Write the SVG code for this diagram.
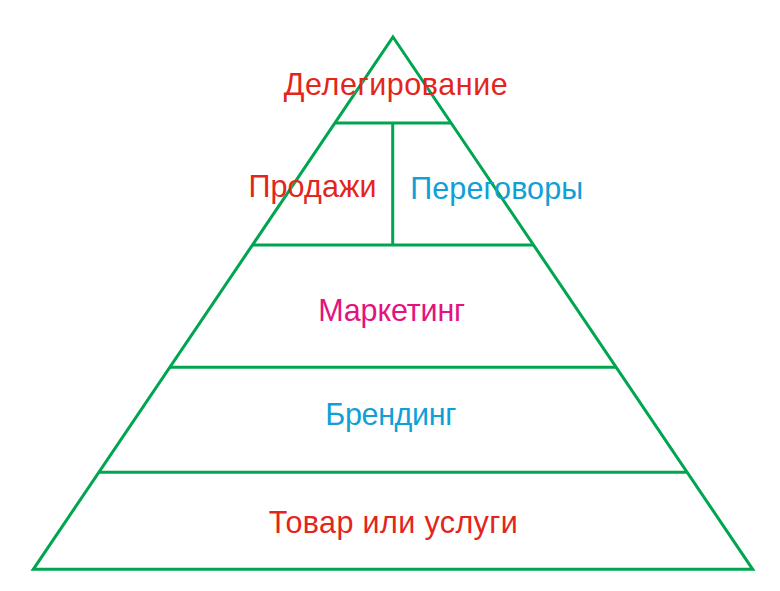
<svg xmlns="http://www.w3.org/2000/svg" width="780" height="591" viewBox="0 0 780 591">
<style>
.ln{stroke:#00a550;stroke-width:3;fill:none;stroke-linejoin:miter}
text{font-family:"Liberation Sans",Arial,sans-serif;font-size:30.5px;text-anchor:middle}
.red{fill:#e2261c}
.blue{fill:#109fd6}
.mag{fill:#e3137f}
</style>
<rect width="780" height="591" fill="#ffffff"/>
<g id="connectors">
<polygon class="ln" points="393,37 752.7,569.3 33.3,569.3"/>
<line class="ln" x1="334.9" y1="123" x2="451.1" y2="123"/>
<line class="ln" x1="252.5" y1="245" x2="533.5" y2="245"/>
<line class="ln" x1="169.8" y1="367.3" x2="616.2" y2="367.3"/>
<line class="ln" x1="98.9" y1="472.3" x2="687.1" y2="472.3"/>
<line class="ln" x1="392.7" y1="123" x2="392.7" y2="245"/>
</g>
<g id="delegirovanie"><text class="red" x="395.8" y="95" textLength="224">Делегирование</text></g>
<g id="prodazhi"><text class="red" x="312.5" y="197" textLength="128">Продажи</text></g>
<g id="peregovory"><text class="blue" x="496.7" y="198.5" textLength="173">Переговоры</text></g>
<g id="marketing"><text class="mag" x="391.7" y="321" textLength="147">Маркетинг</text></g>
<g id="brending"><text class="blue" x="390.8" y="425" textLength="131">Брендинг</text></g>
<g id="tovar"><text class="red" x="393.3" y="533" textLength="249">Товар или услуги</text></g>
</svg>
